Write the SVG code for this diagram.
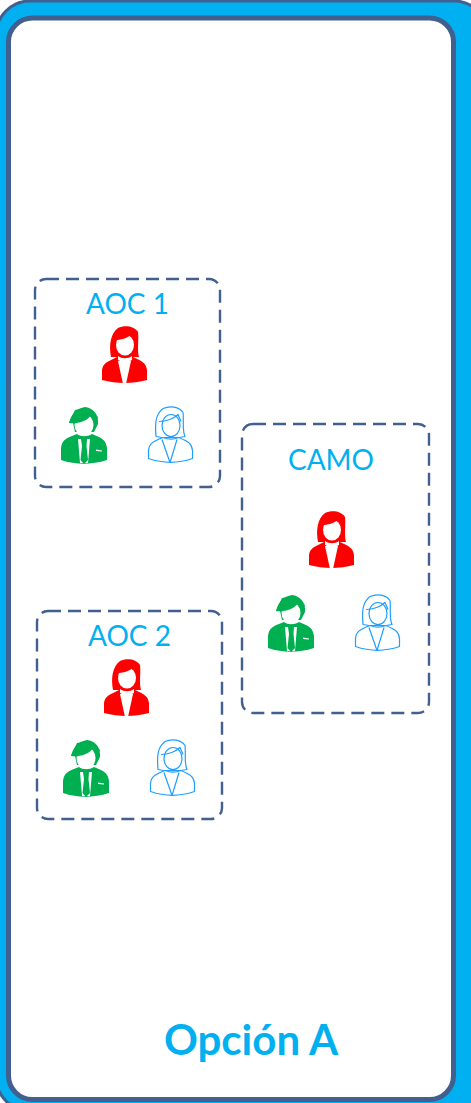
<svg xmlns="http://www.w3.org/2000/svg" width="471" height="1103" viewBox="0 0 471 1103">
<style>
.box{fill:#fff;stroke:#41608F;stroke-width:2.4;stroke-dasharray:13 7}
.lbl{font-family:"Lato","Open Sans",sans-serif;font-size:28px;fill:#00B0F0;text-anchor:middle}
.title{font-family:"Lato","Open Sans",sans-serif;font-size:42px;font-weight:700;fill:#00B0F0;text-anchor:middle}
.r{fill:#FF0000}.g{fill:#00B050}.w{fill:#fff}
.o{fill:#fff;stroke:#1E9FFF;stroke-width:1.2;stroke-linejoin:round}
</style>
<defs>
<symbol id="womanRed" width="46" height="59" viewBox="0 0 46 59" overflow="visible">
<path class="r" d="M9,31C7,20 8,8 16,2C23,-1 32,0 36,6C37,14 35,24 37,31Z"/>
<path class="r" d="M0,44C1,37 5,36 15,31L31,31C40,35 44,37 45,44L45,54C30,58 15,58 0,54Z"/>
<ellipse class="w" cx="23" cy="19" rx="9" ry="10.500"/>
<path class="r" d="M13,14C18,14 26,13 30,7L34,14L33,6L20,3Z"/>
<path class="w" d="M16,30C20,33 26,33 30,30L30,34C26,36 20,36 16,34Z"/>
<path class="w" d="M16,35L29,35L24,58L21,58Z"/>
</symbol>
<symbol id="manGreen" width="46" height="58" viewBox="0 0 46 58" overflow="visible">
<path class="g" d="M8,16C10,9 13,2 24,0C32,1 38,7 37,17L33,25L14,25L12,16Z"/>
<ellipse class="w" cx="23" cy="18" rx="9.500" ry="11"/>
<path class="g" d="M8,16C15,17 26,15 30,8L34,16L37,10L26,1L14,3Z"/>
<path class="g" d="M0,41C1,33 5,31 16,27C20,30 26,30 31,27C41,31 45,33 46,41L46,53C30,58 15,58 0,53Z"/>
<path class="w" d="M17,32L29,32L27,56L19,56Z"/>
<path class="g" d="M20,32L26,32L25.500,39L27,53L23,57L19.500,53L21,39Z"/>
<path class="w" d="M35,42.500L41,43.500L41,44.500L35,44Z"/>
</symbol>
<symbol id="womanLine" width="45" height="58" viewBox="0 0 45 58" overflow="visible">
<path class="o" d="M8,30C7,18 7,8 15,2C22,-1 31,0 35,6C36,14 34,24 37,30L31,31L14,31Z"/>
<path class="o" d="M0.500,44C1,37 5,35 15,31C20,33 26,33 31,31C40,35 44,37 44.500,44L44.500,52C30,57 15,57 0.500,52Z"/>
<ellipse class="o" cx="23" cy="19" rx="9" ry="11"/>
<path class="o" fill="none" d="M11,15C18,15 26,12 30,8L33,15" style="fill:none"/>
<path class="o" style="fill:none" d="M14,33L22,56L29,33"/>
</symbol>
</defs>
<g id="panel">
<rect x="-4" y="1" width="492" height="1110" rx="34" fill="#00B0F0" stroke="#41608F" stroke-width="3"/>
<rect x="8.500" y="18" width="445" height="1081.500" rx="24" fill="#fff" stroke="#41608F" stroke-width="5"/>
</g>
<g id="connectors"></g>
<g id="aoc1">
<rect class="box" x="35" y="279" width="185" height="208" rx="11"/>
<text class="lbl" x="127.500" y="314">AOC 1</text>
<use href="#womanRed" x="102" y="326"/>
<use href="#manGreen" x="61" y="407"/>
<use href="#womanLine" x="148" y="406.500"/>
</g>
<g id="aoc2">
<rect class="box" x="37" y="611" width="185" height="208" rx="11"/>
<text class="lbl" x="129.500" y="646">AOC 2</text>
<use href="#womanRed" x="104" y="659"/>
<use href="#manGreen" x="63" y="740"/>
<use href="#womanLine" x="150" y="739.500"/>
</g>
<g id="camo">
<rect class="box" x="242" y="424" width="187" height="289" rx="11"/>
<text class="lbl" x="331" y="470">CAMO</text>
<use href="#womanRed" x="309" y="511"/>
<use href="#manGreen" x="268" y="595"/>
<use href="#womanLine" x="355" y="594.500"/>
</g>
<text id="title" class="title" x="251" y="1055">Opción A</text>
</svg>
